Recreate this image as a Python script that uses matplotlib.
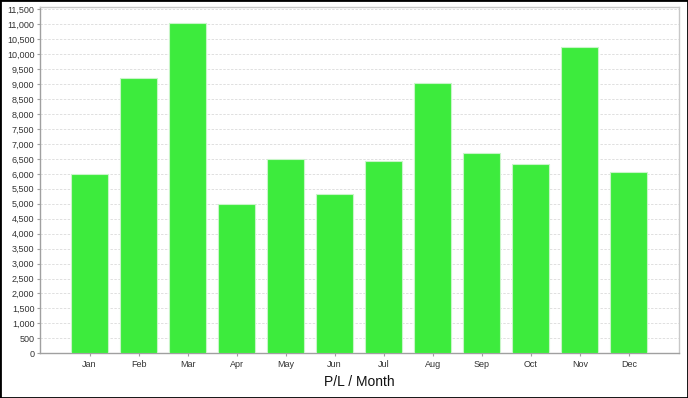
import numpy as np
import matplotlib
matplotlib.use('Agg')
from matplotlib import pyplot as plt
from matplotlib.patches import Rectangle
from matplotlib.ticker import FuncFormatter, MultipleLocator

months = ['Jan', 'Feb', 'Mar', 'Apr', 'May', 'Jun',
          'Jul', 'Aug', 'Sep', 'Oct', 'Nov', 'Dec']
pl = [5985, 9190, 11030, 5000, 6490, 5333,
      6433, 9045, 6710, 6320, 10240, 6053]

plt.rcParams['font.family'] = ['Liberation Sans', 'DejaVu Sans']

fig = plt.figure(figsize=(6.88, 3.98), dpi=100)
W, H = 688, 398
ax = fig.add_axes([40 / W, (H - 353.3) / H, 639.3 / W, (353.3 - 7.3) / H])

x = np.arange(len(months))
ax.bar(x, pl, width=0.755, color='#3deb3d', edgecolor='#c8f5c8',
       linewidth=0.8, zorder=3)

ax.set_xlim(-1.01, 12.03)
ax.set_ylim(0, 11567)
ax.yaxis.set_major_locator(MultipleLocator(500))
ax.yaxis.set_major_formatter(FuncFormatter(lambda v, p: f'{int(v):,}'))
ax.set_xticks(x)
ax.set_xticklabels(months)

ax.grid(axis='y', color='#e0e0e0', linestyle=(0, (2.5, 1.5)), linewidth=0.7, zorder=0)
ax.tick_params(axis='both', labelsize=6.5, length=2, width=0.8,
               color='#a0a0a0', pad=2, labelcolor='#333333')
ax.tick_params(axis='x', pad=3)

for side in ['left', 'bottom']:
    ax.spines[side].set_color('#a0a0a0')
    ax.spines[side].set_linewidth(1)
for side in ['top', 'right']:
    ax.spines[side].set_color('#c8c8c8')
    ax.spines[side].set_linewidth(1)

ax.set_xlabel('P/L / Month', fontsize=10, labelpad=4, color='#111111')

fig.patches.append(Rectangle((0, 0), 1, 1, transform=fig.transFigure,
                             fill=False, edgecolor='black', linewidth=2))

plt.savefig('out.png', dpi=100)
